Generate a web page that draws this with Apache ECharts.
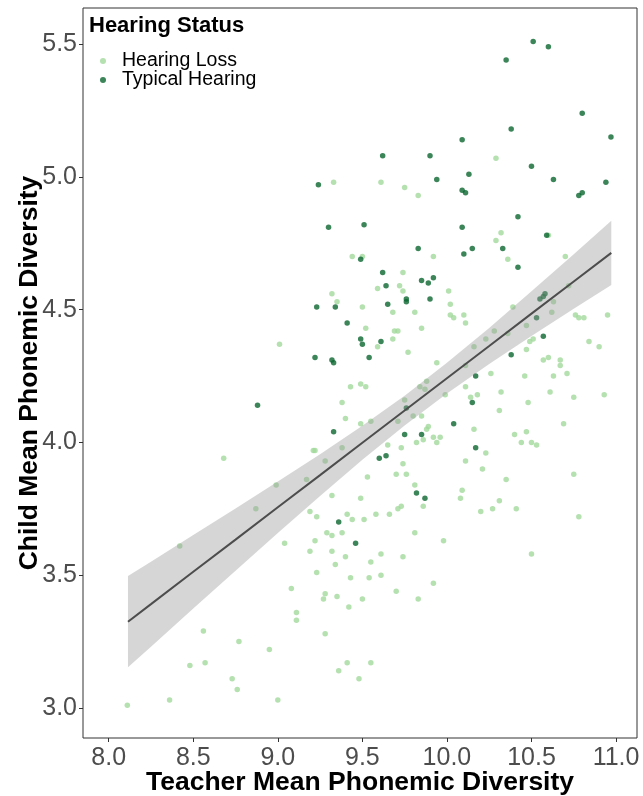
<!DOCTYPE html>
<html><head><meta charset="utf-8">
<script src="https://cdn.jsdelivr.net/npm/echarts@6/dist/echarts.min.js"></script>
<style>html,body{margin:0;padding:0;background:#fff}#c{width:643px;height:796px}</style>
</head><body><div id="c"></div>
<script>
const xTicks = [8.0, 8.5, 9.0, 9.5, 10.0, 10.5, 11.0];
const yTicks = [3.0, 3.5, 4.0, 4.5, 5.0, 5.5];
const seriesNames = ['Hearing Loss', 'Typical Hearing'];

const hearingLossX = [10.29,9.61,9.75,9.83,9.33,10.32,10.29,10.60,9.92,9.50,9.44,10.70,10.36,9.74,9.59,9.72,9.74,10.01,9.68,9.81,
10.02,9.50,10.02,10.04,10.10,10.11,10.39,10.72,10.63,10.62,10.47,10.76,10.78,10.81,10.95,9.52,9.69,9.71,9.85,10.28,
10.23,10.36,10.49,10.51,10.47,9.68,9.59,9.77,10.16,10.84,10.90,9.94,10.11,10.57,10.60,10.67,10.67,10.63,10.71,10.46,
10.26,9.49,9.52,9.84,9.88,9.87,9.99,10.11,10.14,10.18,10.32,10.48,10.61,10.75,10.93,9.75,9.80,9.85,9.71,9.55,
9.49,10.31,9.89,9.88,10.16,10.47,10.40,10.44,10.50,10.53,10.69,9.65,9.73,9.82,9.86,9.92,9.94,9.96,9.74,10.23,
10.11,10.21,10.35,10.75,9.53,9.70,9.76,9.81,10.09,10.08,10.31,9.32,9.35,9.01,9.43,9.38,9.40,9.21,9.22,9.38,
9.28,8.68,9.17,8.99,9.32,9.49,8.87,8.42,9.19,9.23,9.41,9.44,9.51,9.29,9.32,9.38,9.04,9.22,9.19,9.32,
9.40,9.34,9.23,9.43,9.08,9.28,9.27,9.35,9.42,9.50,9.11,9.11,9.28,8.56,8.77,8.95,8.48,8.57,9.41,9.36,
9.48,8.73,8.76,9.00,8.36,8.11,9.86,9.58,9.66,9.71,9.73,10.20,10.27,10.41,10.78,9.81,9.98,9.55,9.61,9.74,
10.50,9.54,9.61,9.70,9.92,9.83,9.55];
const hearingLossY = [5.07,4.98,4.96,4.93,4.98,4.79,4.76,4.78,4.70,4.70,4.70,4.70,4.69,4.64,4.58,4.59,4.57,4.57,4.49,4.49,
4.52,4.51,4.48,4.47,4.48,4.45,4.51,4.59,4.53,4.49,4.44,4.48,4.47,4.47,4.48,4.43,4.42,4.42,4.43,4.42,
4.39,4.41,4.38,4.39,4.35,4.39,4.36,4.34,4.36,4.38,4.36,4.30,4.29,4.31,4.32,4.31,4.29,4.25,4.26,4.25,
4.26,4.22,4.21,4.21,4.23,4.20,4.18,4.21,4.17,4.18,4.19,4.15,4.19,4.17,4.18,4.16,4.10,4.10,4.08,4.08,
4.07,4.12,4.06,4.05,4.05,4.04,4.03,4.00,4.00,3.99,4.07,3.99,3.98,4.00,4.01,4.02,4.00,4.02,3.92,3.96,
3.93,3.90,3.86,3.88,3.87,3.88,3.88,3.84,3.82,3.79,3.78,4.56,4.53,4.37,4.21,4.15,4.09,3.97,3.97,3.98,
3.93,3.94,3.86,3.84,3.80,3.79,3.75,3.61,3.74,3.72,3.73,3.71,3.71,3.66,3.65,3.66,3.62,3.63,3.59,3.59,
3.57,3.54,3.51,3.49,3.45,3.43,3.41,3.42,3.38,3.41,3.36,3.33,3.28,3.29,3.25,3.22,3.16,3.17,3.17,3.14,
3.11,3.11,3.07,3.03,3.03,3.01,3.76,3.73,3.73,3.75,3.76,3.74,3.75,3.75,3.72,3.66,3.63,3.55,3.58,3.57,
3.58,3.49,3.50,3.44,3.47,3.41,3.17];

const typicalX = [10.51,10.60,10.35,10.80,10.97,10.38,10.09,9.62,9.90,10.50,10.63,10.94,10.78,10.80,9.94,10.13,10.09,10.11,9.24,9.30,
10.42,9.51,10.09,10.59,9.83,10.15,10.33,10.10,9.49,10.42,9.62,9.64,9.85,9.89,9.92,9.76,9.76,9.90,9.65,10.58,
10.57,10.55,10.53,10.57,9.49,9.61,9.50,9.54,10.38,10.17,10.15,9.76,10.04,9.75,9.85,9.60,9.64,10.17,9.82,9.87,
9.23,9.34,9.41,9.22,9.32,9.33,8.88,9.33,9.36,9.46];
const typicalY = [5.51,5.49,5.44,5.24,5.15,5.18,5.14,5.08,5.08,5.04,4.99,4.98,4.93,4.94,4.99,5.01,4.95,4.94,4.97,4.81,
4.85,4.82,4.81,4.78,4.73,4.73,4.73,4.71,4.69,4.66,4.64,4.59,4.61,4.60,4.62,4.54,4.53,4.54,4.52,4.56,
4.55,4.54,4.47,4.40,4.39,4.38,4.37,4.32,4.33,4.25,4.15,4.13,4.07,4.03,4.03,3.94,3.95,3.98,3.81,3.79,
4.51,4.51,4.45,4.32,4.31,4.30,4.14,4.04,3.70,3.62];

const fitX     = [8.114,8.25,8.5,8.75,9.0,9.25,9.5,9.75,10.0,10.25,10.5,10.75,10.972];
const fitY     = [3.325,3.391,3.513,3.634,3.756,3.877,3.999,4.120,4.242,4.363,4.485,4.606,4.714];
const fitLower = [3.153,3.231,3.375,3.517,3.659,3.798,3.935,4.064,4.184,4.295,4.401,4.503,4.593];
const fitUpper = [3.497,3.551,3.651,3.751,3.853,3.956,4.063,4.176,4.300,4.431,4.569,4.709,4.835];

const FONT = '"Liberation Sans", Arial, Helvetica, sans-serif';
const zip = (a, b) => a.map((v, i) => [v, b[i]]);

const chart = echarts.init(document.getElementById('c'), null, {renderer: 'canvas'});
chart.setOption({
  animation: false,
  backgroundColor: '#fff',
  title: {
    text: 'Hearing Status', left: 84, top: 10,
    textStyle: {fontFamily: FONT, fontSize: 22, fontWeight: 'bold', color: '#000'}
  },
  legend: {
    orient: 'vertical', left: 95, top: 46, itemWidth: 6, itemHeight: 6, itemGap: -1,
    icon: 'circle', data: seriesNames,
    textStyle: {fontFamily: FONT, fontSize: 19.5, color: '#000', padding: [0, 0, 0, 11]}
  },
  grid: {left: 83, right: 6, top: 8, bottom: 58, show: true, borderColor: '#333', borderWidth: 1,
    backgroundColor: 'transparent', containLabel: false, outerBoundsMode: 'none'},
  xAxis: {
    type: 'value', min: 7.848, max: 11.124,
    name: 'Teacher Mean Phonemic Diversity', nameLocation: 'middle', nameGap: 31, nameMoveOverlap: false,
    nameTextStyle: {fontFamily: FONT, fontSize: 26.5, fontWeight: 'bold', color: '#000'},
    axisLine: {show: false},
    axisTick: {show: true, length: 4, lineStyle: {color: '#333'}, customValues: xTicks},
    axisLabel: {customValues: xTicks, margin: 8, fontFamily: FONT, fontSize: 25, color: '#4d4d4d',
      formatter: v => v.toFixed(1)},
    splitLine: {show: false}
  },
  yAxis: {
    type: 'value', min: 2.887, max: 5.636,
    name: 'Child Mean Phonemic Diversity', nameLocation: 'middle', nameGap: 40, nameRotate: 90, nameMoveOverlap: false,
    nameTextStyle: {fontFamily: FONT, fontSize: 26.5, fontWeight: 'bold', color: '#000'},
    axisLine: {show: false},
    axisTick: {show: true, length: 4, lineStyle: {color: '#333'}, customValues: yTicks},
    axisLabel: {customValues: yTicks, margin: 6, fontFamily: FONT, fontSize: 25, color: '#4d4d4d',
      formatter: v => v.toFixed(1)},
    splitLine: {show: false}
  },
  series: [
    {name: seriesNames[0], type: 'scatter', data: zip(hearingLossX, hearingLossY), symbolSize: 5.5,
      itemStyle: {color: '#a1d99b'}, z: 2, silent: true},
    {name: seriesNames[1], type: 'scatter', data: zip(typicalX, typicalY), symbolSize: 5.5,
      itemStyle: {color: '#0a6630'}, z: 2, silent: true},
    {type: 'custom', z: 3, silent: true,
      data: fitX.map((x, i) => [x, fitLower[i], fitUpper[i]]),
      encode: {x: 0, y: [1, 2]},
      renderItem: function (params, api) {
        if (params.dataIndex !== 0) return null;
        const pts = [];
        for (let i = 0; i < fitX.length; i++) pts.push(api.coord([fitX[i], fitUpper[i]]));
        for (let i = fitX.length - 1; i >= 0; i--) pts.push(api.coord([fitX[i], fitLower[i]]));
        return {type: 'polygon', shape: {points: pts}, style: {fill: 'rgba(153,153,153,0.4)'}};
      }},
    {type: 'line', data: zip(fitX, fitY), showSymbol: false, smooth: false, z: 4, silent: true,
      lineStyle: {color: '#4d4d4d', width: 2}}
  ]
});
</script></body></html>
